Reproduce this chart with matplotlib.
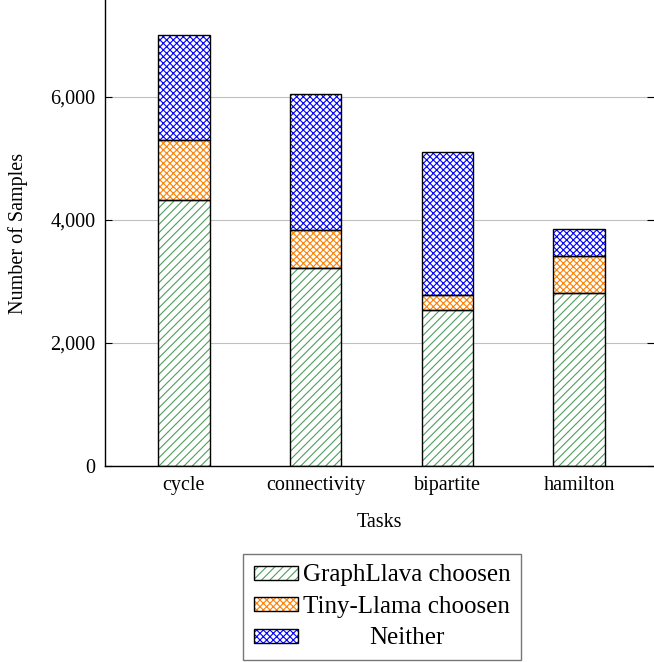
import matplotlib.pyplot as plt
import numpy as np
from matplotlib.ticker import FuncFormatter
from matplotlib.legend_handler import HandlerTuple
from matplotlib.patches import Patch

tasks = ["cycle", "connectivity", "bipartite", "hamilton"]
graphllava = [4325, 3220, 2537, 2813]
tinyllama = [975, 617, 243, 602]
neither = [1700, 2212, 2326, 439]

labels = ["GraphLlava choosen", "Tiny-Llama choosen", "Neither"]
colors = ["#4e9f5e", "#ff8000", "#0000ff"]
hatches = ["////", "xxxxx", "xxxxx"]

plt.rcParams['font.family'] = ['Liberation Serif', 'DejaVu Serif']
plt.rcParams['hatch.linewidth'] = 0.8


def main():
  fig = plt.figure(figsize=(6.54, 6.62), dpi=100)
  ax = fig.add_axes([105/654, 1 - 466/662, 1 - 105/654, 466/662])

  ind = np.arange(len(tasks))
  width = 0.39
  series = [graphllava, tinyllama, neither]
  bottom = np.zeros(len(tasks))
  handles = []
  for i in range(0, len(series)):
    vals = np.array(series[i])
    ax.bar(ind, vals, width, bottom=bottom, color='white', edgecolor=colors[i],
           hatch=hatches[i], linewidth=0, zorder=2)
    ax.bar(ind, vals, width, bottom=bottom, fill=False, edgecolor='black',
           linewidth=1.0, zorder=3)
    bottom += vals
    handles.append((Patch(facecolor='white', edgecolor=colors[i], hatch=hatches[i], linewidth=0),
                    Patch(fill=False, edgecolor='black', linewidth=1.0)))

  ax.set_xlim(-0.6, 3.57)
  ax.set_ylim(0, 7577)
  ax.set_yticks([0, 2000, 4000, 6000])
  ax.yaxis.set_major_formatter(FuncFormatter(lambda v, p: "{:,}".format(int(v))))
  ax.set_xticks(ind)
  ax.set_xticklabels(tasks)
  ax.tick_params(axis='x', length=0, labelsize=14.5, pad=7)
  ax.tick_params(axis='y', direction='in', length=5, labelsize=14.5, right=True, pad=7)
  ax.yaxis.grid(True, color='#c0c0c0', linewidth=0.8, zorder=0)
  ax.set_axisbelow(True)
  ax.spines['top'].set_visible(False)
  ax.spines['right'].set_visible(False)
  for s in ax.spines.values():
    s.set_linewidth(1.0)
  ax.set_ylabel('Number of Samples', fontsize=14.5, labelpad=16)
  ax.set_xlabel('Tasks', fontsize=14.5, labelpad=13)

  leg = fig.legend(handles, labels, handler_map={tuple: HandlerTuple(ndivide=1)},
                   loc='lower center', bbox_to_anchor=(382/654, 2/662), fontsize=18,
                   frameon=True, fancybox=False, edgecolor='#555555',
                   handlelength=1.76, handleheight=0.48, handletextpad=0.2,
                   labelspacing=0.38, borderpad=0.42, borderaxespad=0)
  leg.get_frame().set_linewidth(1.0)

  # center the legend entries (pgfplots style)
  fig.canvas.draw()
  texts = leg.get_texts()
  widths = [t.get_window_extent().width for t in texts]
  maxw = max(widths)
  for t, w in zip(texts, widths):
    t.set_position(((maxw - w) / 2, 0))

  fig.savefig('out.png', dpi=100)


if __name__ == "__main__":
  main()
